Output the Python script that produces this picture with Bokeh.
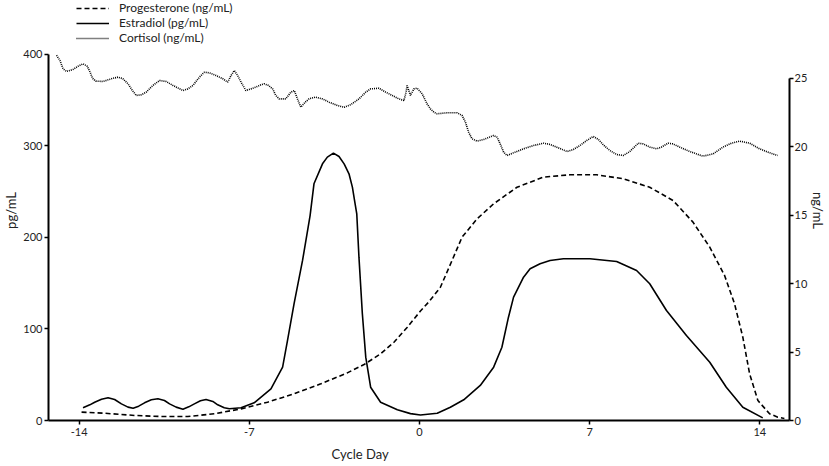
from bokeh.plotting import figure
from bokeh.models import Range1d, LinearAxis, FixedTicker, Legend, LegendItem, Title
from bokeh.embed import file_html
from bokeh.resources import INLINE

# ---- data ----
days_prog = [-13.9, -12.95, -11.72, -10.62, -9.53, -8.44, -7.34, -6.25, -5.16, -4.06,
             -2.97, -2.28, -1.60, -1.05, -0.50, 0.04, 0.40, 0.86, 1.34, 1.75,
             2.37, 3.05, 4.01, 5.10, 6.19, 7.29, 8.38, 9.47, 10.43, 11.25,
             11.94, 12.55, 12.96, 13.30, 13.58, 13.92, 14.40, 14.74, 15.01]
progesterone = [0.61, 0.53, 0.37, 0.29, 0.29, 0.49, 0.85, 1.34, 1.95, 2.68,
                3.48, 4.09, 4.87, 5.72, 6.82, 8.0, 8.7, 9.74, 11.70, 13.40,
                14.74, 15.84, 17.05, 17.79, 17.96, 17.96, 17.67, 17.05, 16.08, 14.50,
                12.67, 10.60, 8.53, 6.09, 3.41, 1.46, 0.49, 0.24, 0.15]

days_e2 = [-13.84, -13.56, -13.36, -13.08, -12.81, -12.54, -12.26, -11.99, -11.78, -11.55,
           -11.31, -11.03, -10.76, -10.49, -10.28, -10.01, -9.73, -9.49, -9.26, -9.01,
           -8.78, -8.50, -8.30, -8.03, -7.82, -7.34, -6.80, -6.11, -5.63, -5.43,
           -5.16, -4.81, -4.50, -4.34, -3.99, -3.79, -3.54, -3.31, -3.10, -2.90,
           -2.76, -2.67, -2.58, -2.49, -2.35, -2.21, -2.01, -1.60, -0.91, -0.37,
           0.04, 0.73, 1.27, 1.82, 2.50, 3.05, 3.39, 3.66, 3.87, 4.28, 4.55,
           4.96, 5.37, 5.92, 7.01, 8.11, 8.93, 9.47, 10.16, 10.98, 11.94,
           12.62, 13.30, 14.12]
estradiol = [13.9, 17.1, 20.0, 23.3, 24.8, 23.0, 18.2, 14.6, 13.4, 15.7,
             19.3, 22.6, 23.7, 21.9, 18.2, 14.6, 12.4, 14.9, 18.2, 21.5,
             23.0, 20.8, 17.1, 13.9, 12.8, 13.9, 19.3, 34.6, 58.3, 87.4,
             127.5, 174.9, 224.0, 258.7, 280.5, 287.8, 292.2, 288.5, 280.5, 269.6,
             255.0, 240.4, 225.9, 178.5, 116.6, 69.2, 36.4, 20.0, 11.7, 7.5,
             6.0, 8.0, 14.5, 22.6, 38.3, 58.3, 80.1, 112.9, 134.8, 156.6, 165.8,
             171.3, 174.9, 176.7, 176.7, 173.8, 163.9, 149.4, 120.2, 92.9, 63.7,
             36.4, 14.5, 2.9]

days_cort = [-14.93, -14.79, -14.66, -14.52, -14.25, -14.04, -13.84, -13.67, -13.56, -13.45,
             -13.32, -13.02, -12.67, -12.40, -12.20, -11.99, -11.81, -11.65, -11.44, -11.24,
             -10.97, -10.69, -10.42, -10.14, -9.73, -9.53, -9.32, -9.05, -8.85, -8.64,
             -8.37, -8.09, -7.89, -7.75, -7.62, -7.48, -7.34, -7.14, -6.93, -6.73,
             -6.52, -6.39, -6.21, -6.04, -5.91, -5.77, -5.50, -5.29, -5.15, -5.02,
             -4.88, -4.70, -4.54, -4.27, -3.99, -3.72, -3.38, -3.10, -2.83, -2.49,
             -2.21, -2.01, -1.67, -1.39, -1.12, -0.85, -0.64, -0.55, -0.51, -0.44,
             -0.37, -0.30, -0.23, -0.10,
             0.11, 0.31, 0.45, 0.59, 0.72, 1.13, 1.55, 1.75, 1.89, 2.02,
             2.16, 2.37, 2.64, 3.05, 3.19, 3.32, 3.46, 3.60, 3.87, 4.28,
             4.69, 5.10, 5.37, 5.65, 6.07, 6.33, 6.60, 6.88, 7.15, 7.36,
             7.56, 7.83, 8.11, 8.38, 8.65, 9.00, 9.20, 9.48, 9.75, 9.95,
             10.23, 10.42, 10.71, 11.12, 11.66, 12.08, 12.48, 12.83, 13.17, 13.58,
             13.99, 14.40, 14.73]
cortisol = [26.7, 26.32, 25.71, 25.51, 25.66, 25.90, 26.07, 25.90, 25.51, 25.02,
            24.81, 24.78, 24.98, 25.10, 24.98, 24.61, 24.12, 23.76, 23.81, 24.00,
            24.49, 24.85, 24.78, 24.49, 24.12, 24.24, 24.49, 25.10, 25.46, 25.41,
            25.22, 24.98, 24.73, 25.22, 25.58, 25.22, 24.73, 24.12, 24.24, 24.37,
            24.54, 24.61, 24.49, 24.24, 23.76, 23.51, 23.51, 24.00, 24.12, 23.51,
            22.90, 23.27, 23.51, 23.64, 23.51, 23.27, 23.03, 22.90, 23.08, 23.51,
            24.00, 24.24, 24.29, 24.00, 23.76, 23.51, 23.39, 24.00, 24.49, 24.12,
            23.76, 24.00, 24.24, 24.29,
            23.88, 23.15, 22.78, 22.54, 22.42, 22.49, 22.49, 22.30, 21.81, 21.08,
            20.59, 20.42, 20.54, 20.83, 20.71, 20.22, 19.62, 19.37, 19.57, 19.86,
            20.10, 20.27, 20.18, 19.98, 19.66, 19.81, 20.10, 20.47, 20.76, 20.54,
            20.15, 19.74, 19.44, 19.37, 19.66, 20.27, 20.22, 19.98, 19.86, 19.98,
            20.27, 20.22, 19.98, 19.66, 19.32, 19.49, 19.98, 20.27, 20.42, 20.27,
            19.86, 19.57, 19.37]

x_ticks = [-14, -7, 0, 7, 14]
left_ticks = [0, 100, 200, 300, 400]
right_ticks = [0, 5, 10, 15, 20, 25]

FONT = "Lato"
TXT = "#222222"

# The frame reaches the top of the figure so the legend (drawn inside the frame) is visible;
# the axis lines are bounded to 0..400 and 0..25 like the reference.
p = figure(width=829, height=466, output_backend="svg", toolbar_location=None,
           x_range=Range1d(-15.26, 15.22), y_range=Range1d(0, 459.0),
           min_border_left=47, min_border_right=39, min_border_top=0, min_border_bottom=46)
p.extra_y_ranges = {"ng": Range1d(0, 30.70)}
p.grid.visible = False
p.outline_line_color = None
p.background_fill_color = "white"
p.border_fill_color = "white"

def style_axis(ax):
    ax.axis_line_width = 2
    ax.axis_line_color = "black"
    ax.major_tick_line_width = 1.5
    ax.major_tick_line_color = "black"
    ax.major_tick_out = 4
    ax.major_tick_in = 0
    ax.minor_tick_line_color = None
    ax.major_label_text_font = FONT
    ax.major_label_text_font_size = "11px"
    ax.major_label_text_color = TXT
    ax.major_label_standoff = 2
    ax.axis_label_text_font = FONT
    ax.axis_label_text_font_size = "13px"
    ax.axis_label_text_font_style = "normal"
    ax.axis_label_text_color = TXT
    ax.axis_label_standoff = 1

xa = p.xaxis[0]
style_axis(xa)
xa.ticker = FixedTicker(ticks=x_ticks)
xa.major_label_overrides = {t: str(t) for t in x_ticks}
xa.major_label_standoff = 3

ya = p.yaxis[0]
style_axis(ya)
ya.ticker = FixedTicker(ticks=left_ticks)
ya.axis_label = "pg/mL"
ya.bounds = (0, 400)

ra = LinearAxis(y_range_name="ng", axis_label="ng/mL")
style_axis(ra)
ra.ticker = FixedTicker(ticks=right_ticks)
ra.bounds = (0, 25)
ra.major_label_standoff = 1
ra.axis_label_standoff = 0
p.add_layout(ra, "right")

p.add_layout(Title(text="Cycle Day", align="left", offset=283, standoff=10,
                   text_font=FONT, text_font_size="13px", text_font_style="normal",
                   text_color=TXT), "below")

r_prog = p.line(days_prog, progesterone, y_range_name="ng", line_color="black",
                line_width=1.6, line_dash="5 3")
r_e2 = p.line(days_e2, estradiol, line_color="black", line_width=1.6)
r_cort = p.line(days_cort, cortisol, y_range_name="ng", line_color="black",
                line_width=1.6, line_dash="1 1")

legend = Legend(items=[LegendItem(label="Progesterone (ng/mL)", renderers=[r_prog]),
                       LegendItem(label="Estradiol (pg/mL)", renderers=[r_e2]),
                       LegendItem(label="Cortisol (ng/mL)", renderers=[r_cort])],
                location=(28, 375), orientation="vertical",
                glyph_width=33, glyph_height=14, label_height=14, label_standoff=10,
                spacing=0, padding=0, margin=0,
                label_text_font=FONT, label_text_font_size="12px", label_text_color=TXT,
                border_line_color=None, background_fill_alpha=0)
p.add_layout(legend, "center")

open("out.html", "w").write(file_html(p, INLINE))
